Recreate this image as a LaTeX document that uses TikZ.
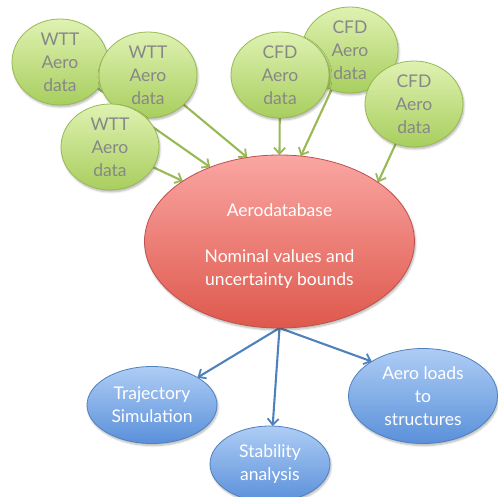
\documentclass[tikz,border=0pt]{standalone}
\usepackage{fontspec}
\setmainfont{Lato}
\usetikzlibrary{shapes.geometric,shadows.blur,arrows.meta,backgrounds}
\definecolor{gtop}{HTML}{DFF2B2}
\definecolor{gbot}{HTML}{A8CE5E}
\definecolor{gline}{HTML}{98B954}
\definecolor{gtext}{HTML}{878787}
\definecolor{rtop}{HTML}{FAA6A3}
\definecolor{rbot}{HTML}{DE584C}
\definecolor{rline}{HTML}{C0504D}
\definecolor{btop}{HTML}{AECDF5}
\definecolor{bbot}{HTML}{5A90DA}
\definecolor{bline}{HTML}{4F81BD}
\tikzset{
  ell/.style={ellipse, align=center, inner sep=0pt, outer sep=0pt,
    font=\fontsize{17.5}{23}\selectfont,
    blur shadow={shadow blur steps=6, shadow xshift=1pt, shadow yshift=-2pt, shadow opacity=30}},
  gnode/.style={ell, draw=gline, line width=0.8pt, top color=gtop, bottom color=gbot, text=gtext,
    minimum width=98pt, minimum height=86pt},
  rnode/.style={ell, draw=rline, line width=0.8pt, top color=rtop, bottom color=rbot, text=white,
    minimum width=270pt, minimum height=173pt},
  bnode/.style={ell, draw=bline, line width=0.8pt, top color=btop, bottom color=bbot, text=white},
  garrow/.style={draw=gline, line width=2.1pt, -{Straight Barb[length=6pt,width=11pt,line width=1.8pt]}},
  barrow/.style={draw=bline, line width=2.1pt, -{Straight Barb[length=6pt,width=11pt,line width=1.8pt]}},
}
\begin{document}
\begin{tikzpicture}[x=1pt,y=-1pt]
\useasboundingbox (0,0) rectangle (498,497);
% green sources
\node[gnode, minimum width=96pt] (wtt1) at (60,62) {WTT\\Aero\\data};
\node[gnode] (wtt2) at (148,75) {WTT\\Aero\\data};
\node[gnode] (wtt3) at (110,147) {WTT\\Aero\\data};
\node[gnode, minimum width=96pt] (cfd2) at (350,50) {CFD\\Aero\\data};
\node[gnode] (cfd1) at (280,75) {CFD\\Aero\\data};
\node[gnode] (cfd3) at (414,104) {CFD\\Aero\\data};
% database
\node[rnode] (db) at (279.5,241.5) {\raisebox{-5pt}[\height][\depth]{\begin{tabular}{@{}c@{}}Aerodatabase\\[23pt]Nominal values and\\uncertainty bounds\end{tabular}}};
% consumers
\node[bnode, minimum width=130pt, minimum height=77pt] (traj) at (152,405) {Trajectory\\Simulation};
\node[bnode, minimum width=120pt, minimum height=76pt] (stab) at (270,464) {Stability\\analysis};
\node[bnode, minimum width=149pt, minimum height=95pt] (aero) at (423,396) {Aero loads\\to\\structures};
% connectors
\begin{pgfonlayer}{background}
\draw[garrow] (wtt1) -- (db.133.8);
\draw[garrow] (wtt2) -- (db.111.7);
\draw[garrow] (wtt3) -- (db.148.3);
\draw[garrow] (cfd1) -- (db.90);
\draw[garrow] (cfd2) -- (db.76.7);
\draw[garrow] (cfd3) -- (db.31.9);
\draw[barrow] (db.south) -- (traj);
\draw[barrow] (db.south) -- (stab);
\draw[barrow] (db.south) -- (aero.146.6);
\end{pgfonlayer}
\end{tikzpicture}
\end{document}
